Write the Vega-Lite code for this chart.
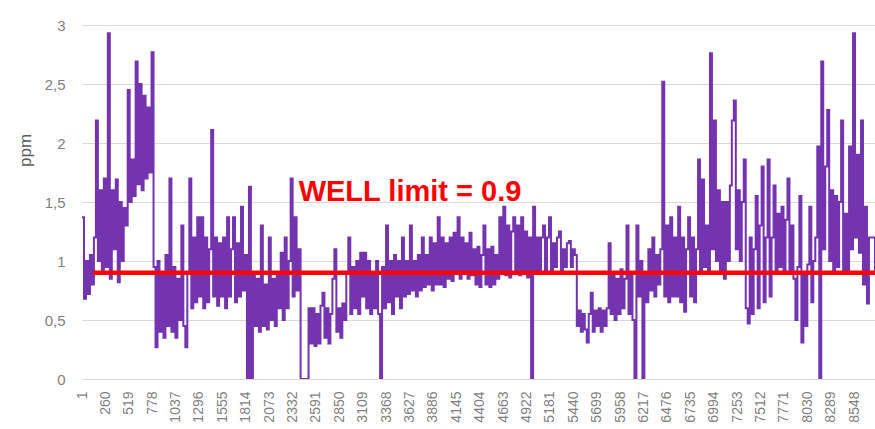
{
"$schema": "https://vega.github.io/schema/vega-lite/v6.json",
"width": 793, "height": 354,
"autosize": {"type": "none"},
"padding": {"left": 82, "top": 25, "right": 0, "bottom": 50},
"background": "white",
"config": {"view": {"stroke": null}, "font": "Liberation Sans"},
"datasets": {
"ppm": [
{"i":1,"v":1.37},{"i":23,"v":0.68},{"i":45,"v":1.0},{"i":67,"v":0.72},{"i":89,"v":1.05},{"i":111,"v":0.8},{"i":133,"v":1.2},{"i":155,"v":2.19},{"i":177,"v":1.0},{"i":199,"v":1.6},
{"i":221,"v":0.9},{"i":243,"v":1.7},{"i":265,"v":0.95},{"i":287,"v":2.93},{"i":309,"v":0.85},{"i":331,"v":1.6},{"i":353,"v":1.1},{"i":375,"v":1.69},{"i":397,"v":0.82},{"i":419,"v":1.5},
{"i":441,"v":1.0},{"i":463,"v":1.45},{"i":485,"v":1.3},{"i":507,"v":2.45},{"i":529,"v":1.5},{"i":551,"v":1.86},{"i":573,"v":1.55},{"i":595,"v":2.69},{"i":617,"v":1.65},{"i":639,"v":2.5},
{"i":661,"v":1.6},{"i":683,"v":2.4},{"i":705,"v":1.7},{"i":727,"v":2.3},{"i":749,"v":1.75},{"i":771,"v":2.77},{"i":793,"v":0.95},{"i":815,"v":0.27},{"i":837,"v":1.0},{"i":859,"v":0.4},
{"i":881,"v":0.9},{"i":903,"v":0.35},{"i":925,"v":1.05},{"i":947,"v":0.45},{"i":969,"v":1.7},{"i":991,"v":0.4},{"i":1013,"v":0.95},{"i":1035,"v":0.35},{"i":1057,"v":0.85},{"i":1079,"v":0.5},
{"i":1101,"v":1.3},{"i":1123,"v":0.45},{"i":1145,"v":0.27},{"i":1167,"v":0.9},{"i":1189,"v":1.7},{"i":1211,"v":0.6},{"i":1233,"v":1.2},{"i":1255,"v":0.65},{"i":1277,"v":1.37},{"i":1299,"v":0.7},
{"i":1321,"v":1.37},{"i":1343,"v":0.6},{"i":1365,"v":1.2},{"i":1387,"v":0.65},{"i":1409,"v":1.1},{"i":1431,"v":2.11},{"i":1453,"v":0.7},{"i":1475,"v":1.2},{"i":1497,"v":0.62},{"i":1519,"v":1.15},
{"i":1541,"v":0.7},{"i":1563,"v":1.2},{"i":1585,"v":0.6},{"i":1607,"v":1.37},{"i":1629,"v":0.7},{"i":1651,"v":1.1},{"i":1673,"v":1.37},{"i":1695,"v":0.65},{"i":1717,"v":1.15},{"i":1739,"v":0.7},
{"i":1761,"v":1.46},{"i":1783,"v":0.75},{"i":1805,"v":1.05},{"i":1827,"v":0.0},{"i":1849,"v":1.63},{"i":1871,"v":0.0},{"i":1893,"v":0.9},{"i":1915,"v":0.45},{"i":1937,"v":0.85},{"i":1959,"v":0.4},
{"i":1981,"v":1.3},{"i":2003,"v":0.45},{"i":2025,"v":0.8},{"i":2047,"v":0.42},{"i":2069,"v":1.2},{"i":2091,"v":0.5},{"i":2113,"v":0.85},{"i":2135,"v":0.45},{"i":2157,"v":0.9},{"i":2179,"v":0.6},
{"i":2201,"v":1.07},{"i":2223,"v":0.5},{"i":2245,"v":1.2},{"i":2267,"v":0.6},{"i":2289,"v":1.0},{"i":2311,"v":1.7},{"i":2333,"v":0.7},{"i":2355,"v":1.37},{"i":2377,"v":0.75},{"i":2399,"v":1.1},
{"i":2421,"v":0.0},{"i":2443,"v":0.0},{"i":2465,"v":0.0},{"i":2487,"v":0.0},{"i":2509,"v":0.6},{"i":2531,"v":0.3},{"i":2553,"v":0.6},{"i":2575,"v":0.28},{"i":2597,"v":0.55},{"i":2619,"v":0.3},
{"i":2641,"v":0.62},{"i":2663,"v":0.73},{"i":2685,"v":0.35},{"i":2707,"v":0.6},{"i":2729,"v":0.3},{"i":2751,"v":0.55},{"i":2773,"v":0.85},{"i":2795,"v":1.1},{"i":2817,"v":0.4},{"i":2839,"v":0.6},
{"i":2861,"v":0.35},{"i":2883,"v":0.64},{"i":2905,"v":0.5},{"i":2927,"v":0.9},{"i":2949,"v":1.2},{"i":2971,"v":0.55},{"i":2993,"v":0.95},{"i":3015,"v":0.6},{"i":3037,"v":1.0},{"i":3059,"v":0.55},
{"i":3081,"v":1.07},{"i":3103,"v":0.7},{"i":3125,"v":1.07},{"i":3147,"v":0.6},{"i":3169,"v":1.0},{"i":3191,"v":0.55},{"i":3213,"v":0.9},{"i":3235,"v":0.6},{"i":3257,"v":1.0},{"i":3279,"v":0.55},
{"i":3301,"v":0.0},{"i":3323,"v":0.95},{"i":3345,"v":0.6},{"i":3367,"v":1.3},{"i":3389,"v":0.65},{"i":3411,"v":1.0},{"i":3433,"v":0.55},{"i":3455,"v":1.05},{"i":3477,"v":0.7},{"i":3499,"v":1.0},
{"i":3521,"v":0.6},{"i":3543,"v":1.2},{"i":3565,"v":0.7},{"i":3587,"v":1.0},{"i":3609,"v":0.72},{"i":3631,"v":1.3},{"i":3653,"v":0.75},{"i":3675,"v":1.0},{"i":3697,"v":0.7},{"i":3719,"v":1.05},
{"i":3741,"v":0.75},{"i":3763,"v":1.2},{"i":3785,"v":0.78},{"i":3807,"v":1.05},{"i":3829,"v":0.8},{"i":3851,"v":1.2},{"i":3873,"v":0.75},{"i":3895,"v":1.15},{"i":3917,"v":0.8},{"i":3939,"v":1.37},
{"i":3961,"v":0.8},{"i":3983,"v":1.2},{"i":4005,"v":0.78},{"i":4027,"v":1.15},{"i":4049,"v":0.85},{"i":4071,"v":1.2},{"i":4093,"v":0.83},{"i":4115,"v":1.24},{"i":4137,"v":0.9},{"i":4159,"v":1.37},
{"i":4181,"v":0.85},{"i":4203,"v":1.2},{"i":4225,"v":0.9},{"i":4247,"v":1.15},{"i":4269,"v":0.85},{"i":4291,"v":1.24},{"i":4313,"v":0.88},{"i":4335,"v":1.1},{"i":4357,"v":0.8},{"i":4379,"v":1.12},
{"i":4401,"v":0.78},{"i":4423,"v":1.05},{"i":4445,"v":1.3},{"i":4467,"v":0.8},{"i":4489,"v":1.1},{"i":4511,"v":0.78},{"i":4533,"v":1.12},{"i":4555,"v":0.8},{"i":4577,"v":1.05},{"i":4599,"v":0.85},
{"i":4621,"v":1.37},{"i":4643,"v":0.9},{"i":4665,"v":1.46},{"i":4687,"v":0.88},{"i":4709,"v":1.3},{"i":4731,"v":0.86},{"i":4753,"v":1.25},{"i":4775,"v":1.37},{"i":4797,"v":0.9},{"i":4819,"v":1.3},
{"i":4841,"v":0.88},{"i":4863,"v":1.37},{"i":4885,"v":0.9},{"i":4907,"v":1.25},{"i":4929,"v":0.86},{"i":4951,"v":1.2},{"i":4973,"v":0.0},{"i":4995,"v":1.46},{"i":5017,"v":0.9},{"i":5039,"v":1.2},
{"i":5061,"v":0.9},{"i":5083,"v":1.2},{"i":5105,"v":1.3},{"i":5127,"v":0.92},{"i":5149,"v":1.2},{"i":5171,"v":1.37},{"i":5193,"v":0.9},{"i":5215,"v":1.15},{"i":5237,"v":0.95},{"i":5259,"v":1.2},
{"i":5281,"v":1.25},{"i":5303,"v":0.92},{"i":5325,"v":1.1},{"i":5347,"v":0.95},{"i":5369,"v":1.15},{"i":5391,"v":1.17},{"i":5413,"v":0.95},{"i":5435,"v":1.1},{"i":5457,"v":1.05},{"i":5479,"v":0.45},
{"i":5501,"v":0.58},{"i":5523,"v":0.4},{"i":5545,"v":0.55},{"i":5567,"v":0.42},{"i":5589,"v":0.31},{"i":5611,"v":0.55},{"i":5633,"v":0.73},{"i":5655,"v":0.4},{"i":5677,"v":0.58},{"i":5699,"v":0.45},
{"i":5721,"v":0.6},{"i":5743,"v":0.4},{"i":5765,"v":0.58},{"i":5787,"v":0.45},{"i":5809,"v":0.6},{"i":5831,"v":1.15},{"i":5853,"v":0.55},{"i":5875,"v":0.9},{"i":5897,"v":0.5},{"i":5919,"v":0.85},
{"i":5941,"v":0.55},{"i":5963,"v":0.93},{"i":5985,"v":0.6},{"i":6007,"v":0.85},{"i":6029,"v":1.3},{"i":6051,"v":0.55},{"i":6073,"v":0.9},{"i":6095,"v":0.5},{"i":6117,"v":0.0},{"i":6139,"v":1.3},
{"i":6161,"v":0.7},{"i":6183,"v":1.0},{"i":6205,"v":0.0},{"i":6227,"v":0.9},{"i":6249,"v":0.65},{"i":6271,"v":1.1},{"i":6293,"v":0.75},{"i":6315,"v":1.2},{"i":6337,"v":0.7},{"i":6359,"v":1.05},
{"i":6381,"v":0.8},{"i":6403,"v":1.1},{"i":6425,"v":2.52},{"i":6447,"v":0.7},{"i":6469,"v":1.3},{"i":6491,"v":0.65},{"i":6513,"v":1.37},{"i":6535,"v":0.7},{"i":6557,"v":1.2},{"i":6579,"v":0.7},
{"i":6601,"v":1.46},{"i":6623,"v":0.65},{"i":6645,"v":1.2},{"i":6667,"v":0.57},{"i":6689,"v":1.1},{"i":6711,"v":1.37},{"i":6733,"v":0.7},{"i":6755,"v":1.2},{"i":6777,"v":0.65},{"i":6799,"v":1.1},
{"i":6821,"v":1.86},{"i":6843,"v":0.9},{"i":6865,"v":1.69},{"i":6887,"v":0.95},{"i":6909,"v":1.3},{"i":6931,"v":0.92},{"i":6953,"v":2.76},{"i":6975,"v":1.1},{"i":6997,"v":2.19},{"i":7019,"v":1.0},
{"i":7041,"v":1.6},{"i":7063,"v":0.9},{"i":7085,"v":1.5},{"i":7107,"v":0.85},{"i":7129,"v":1.5},{"i":7151,"v":1.0},{"i":7173,"v":1.64},{"i":7195,"v":2.19},{"i":7217,"v":2.36},{"i":7239,"v":1.1},
{"i":7261,"v":1.6},{"i":7283,"v":1.0},{"i":7305,"v":1.5},{"i":7327,"v":1.86},{"i":7349,"v":0.6},{"i":7371,"v":0.47},{"i":7393,"v":1.2},{"i":7415,"v":0.55},{"i":7437,"v":1.1},{"i":7459,"v":1.55},
{"i":7481,"v":0.6},{"i":7503,"v":1.3},{"i":7525,"v":1.8},{"i":7547,"v":0.65},{"i":7569,"v":1.2},{"i":7591,"v":1.86},{"i":7613,"v":0.7},{"i":7635,"v":1.2},{"i":7657,"v":1.64},{"i":7679,"v":0.92},
{"i":7701,"v":1.4},{"i":7723,"v":0.95},{"i":7745,"v":1.46},{"i":7767,"v":0.9},{"i":7789,"v":1.35},{"i":7811,"v":1.7},{"i":7833,"v":0.9},{"i":7855,"v":1.3},{"i":7877,"v":0.85},{"i":7899,"v":0.5},
{"i":7921,"v":0.95},{"i":7943,"v":1.55},{"i":7965,"v":0.31},{"i":7987,"v":0.9},{"i":8009,"v":0.45},{"i":8031,"v":0.97},{"i":8053,"v":1.46},{"i":8075,"v":0.65},{"i":8097,"v":1.0},{"i":8119,"v":1.2},
{"i":8141,"v":1.97},{"i":8163,"v":0.0},{"i":8185,"v":2.69},{"i":8207,"v":1.1},{"i":8229,"v":1.8},{"i":8251,"v":2.28},{"i":8273,"v":1.0},{"i":8295,"v":1.6},{"i":8317,"v":0.9},{"i":8339,"v":1.55},
{"i":8361,"v":0.95},{"i":8383,"v":1.5},{"i":8405,"v":2.19},{"i":8427,"v":0.92},{"i":8449,"v":1.4},{"i":8471,"v":0.9},{"i":8493,"v":1.97},{"i":8515,"v":1.1},{"i":8537,"v":2.93},{"i":8559,"v":1.2},
{"i":8581,"v":1.9},{"i":8603,"v":1.07},{"i":8625,"v":2.19},{"i":8647,"v":0.8},{"i":8669,"v":1.46},{"i":8691,"v":0.64},{"i":8713,"v":1.2},{"i":8780,"v":0.9}
],
"limit": [{"i": 120, "i2": 8780, "v": 0.9}],
"note": [{"i": 3632, "v": 1.51, "label": "WELL limit = 0.9"}]
},
"encoding": {
"x": {"field": "i", "type": "quantitative",
"scale": {"domain": [1, 8780], "nice": false, "zero": false},
"axis": {"values": [1,260,519,778,1037,1296,1555,1814,2073,2332,2591,2850,3109,3368,3627,3886,4145,4404,4663,4922,5181,5440,5699,5958,6217,6476,6735,6994,7253,7512,7771,8030,8289,8548],
"format": "d", "labelAngle": -90, "labelFontSize": 14, "labelColor": "#7f7f7f", "labelPadding": 12,
"ticks": false, "domain": false, "grid": false, "title": null, "labelOverlap": false, "labelBound": false, "labelFlush": false}},
"y": {"field": "v", "type": "quantitative",
"scale": {"domain": [0, 3], "nice": false},
"axis": {"values": [0, 0.5, 1, 1.5, 2, 2.5, 3], "format": "~g", "labelExpr": "replace(datum.label, '.', ',')",
"grid": true, "gridColor": "#d9d9d9", "gridWidth": 1, "domain": false, "ticks": false,
"labelFontSize": 15, "labelColor": "#7f7f7f", "labelPadding": 17,
"title": "ppm", "titleFontSize": 17, "titleFontWeight": "normal", "titleColor": "#595959",
"titleX": -48, "titleY": 125}}
},
"layer": [
{
"data": {"name": "ppm"},
"mark": {"type": "line", "color": "#7434B0", "strokeWidth": 2, "interpolate": "step-after", "clip": true}
},
{
"data": {"name": "limit"},
"mark": {"type": "rule", "color": "#FF0000", "strokeWidth": 4.5},
"encoding": {"x2": {"field": "i2"}}
},
{
"data": {"name": "note"},
"mark": {"type": "text", "color": "#FF0000", "fontSize": 29, "fontWeight": "bold", "align": "center", "baseline": "alphabetic", "font": "Liberation Sans"},
"encoding": {"text": {"field": "label"}}
}
]
}
